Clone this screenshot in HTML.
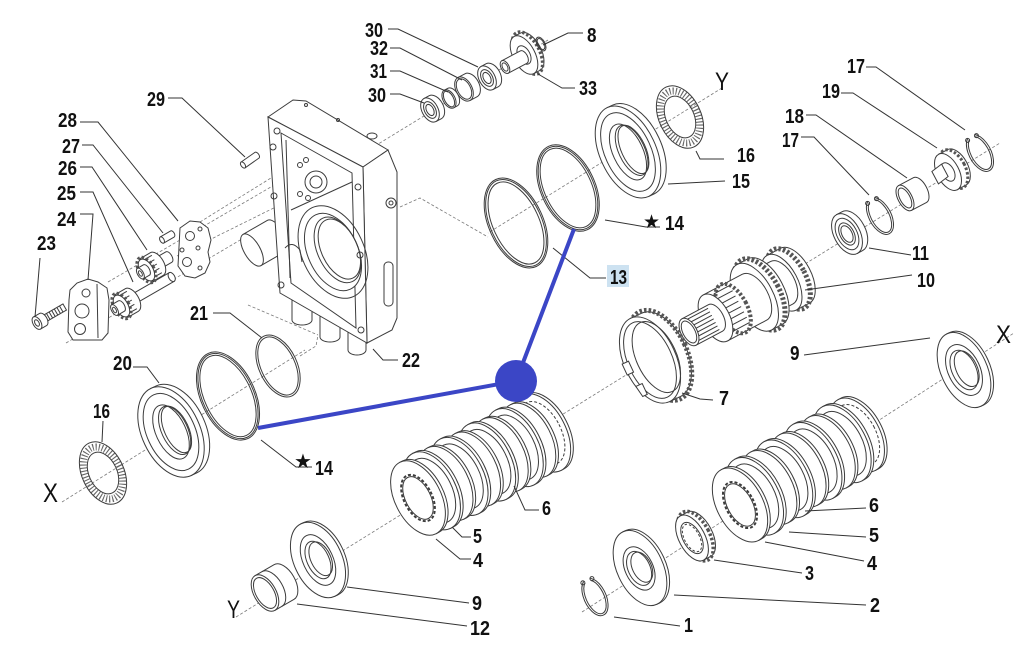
<!DOCTYPE html>
<html><head><meta charset="utf-8"><style>
html,body{margin:0;padding:0;background:#fff;}
svg{display:block}
.p{fill:#fff;stroke:#3c3c3c;stroke-width:1}
.n{fill:none;stroke:#3c3c3c;stroke-width:1}
.g{fill:none;stroke:#555;stroke-width:3.5;stroke-dasharray:2.5 2}
.nd{fill:none;stroke:#666;stroke-width:7;stroke-dasharray:1.1 2}
.d{fill:none;stroke:#7a7a7a;stroke-width:0.8;stroke-dasharray:3 2}
.l{fill:none;stroke:#333;stroke-width:1}
.t{font-family:"Liberation Sans",sans-serif;font-weight:bold;font-size:20px;fill:#111}
.a{font-family:"Liberation Sans",sans-serif;font-size:25px;fill:#111}
.s{font-family:"DejaVu Sans","Liberation Sans",sans-serif;font-size:19px;fill:#111}
</style></head><body>
<svg width="1024" height="659" viewBox="0 0 1024 659" xmlns="http://www.w3.org/2000/svg">
<rect width="1024" height="659" fill="#fff"/>

<!-- dashed axes -->
<path class="d" d="M375,146 L548,40"/>
<path class="d" d="M722,88 L488,233"/>
<path class="d" d="M400,207 L420,198 L488,237"/>
<path class="d" d="M62,502 L305,350"/>
<path class="d" d="M248,305 L318,335 M300,356 L316,346 L318,335"/>
<path class="d" d="M236,617 L1000,143"/>
<path class="d" d="M582,612 L1014,333"/>
<path class="d" d="M66,343 L252,233"/>
<path class="d" d="M108,282 L300,170"/>
<path class="d" d="M177,256 L320,185"/>
<path class="d" d="M200,222 L300,160"/>

<!-- HOUSING 22 -->
<g transform="translate(252,250) rotate(-30)"><path class="p" d="M0,-18H28A8,18 0 0 1 28,18H0Z"/><ellipse class="p" rx="8" ry="18"/></g>
<path class="p" d="M292,298 V320 A10,5 0 0 0 312,320 V305"/>
<path class="p" d="M320,315 V337 A10,5 0 0 0 340,337 V318"/>
<path class="p" d="M348,330 V350 A9,5 0 0 0 366,350 V335"/>
<path class="p" d="M268,117 L293,100 L306,101 L388,150 L363,167 Z"/>
<path class="p" d="M363,167 L388,150 L397,172 L397,318 L392,330 L367,343 Z"/>
<path class="p" d="M268,117 L363,167 L367,343 L280,293 Z"/>
<path class="p" d="M281,133 L352,173 L356,328 L291,283 Z"/>
<path class="n" d="M291,210 L352,182"/>
<path class="n" d="M286,140 L290,278"/>
<g transform="translate(333,252) rotate(-25)"><ellipse class="n" rx="31" ry="49"/><ellipse class="p" rx="25" ry="41"/><ellipse class="n" cx="5" rx="20" ry="35"/><ellipse class="n" cx="7" rx="18" ry="32"/></g>
<circle class="p" cx="316" cy="182" r="11"/><circle class="n" cx="316" cy="182" r="6"/>
<circle class="n" cx="300" cy="165" r="2.5"/><circle class="n" cx="306" cy="160" r="2.5"/><circle class="n" cx="300" cy="194" r="2.5"/><circle class="n" cx="308" cy="198" r="2.5"/>
<circle class="n" cx="277" cy="131" r="3"/><circle class="n" cx="273" cy="147" r="3"/><circle class="n" cx="274" cy="196" r="3"/><circle class="n" cx="281" cy="285" r="3"/>
<circle class="n" cx="358" cy="187" r="3"/><circle class="n" cx="360" cy="255" r="3"/><circle class="n" cx="361" cy="330" r="3"/>
<circle class="n" cx="306" cy="105" r="1.5"/><circle class="n" cx="338" cy="120" r="1.5"/>
<ellipse class="p" cx="372" cy="136" rx="5" ry="3"/>
<circle class="p" cx="391" cy="203" r="5"/><circle class="n" cx="391" cy="203" r="2"/>
<rect class="n" x="384" y="262" width="9" height="44" rx="4"/>
<path class="n" d="M285,248 Q292,240 300,250 L302,262"/>

<!-- PUMP 23-28 -->
<g transform="translate(37,323) rotate(-30)">
<rect class="p" x="6" y="-3.5" width="26" height="7"/>
<path class="n" d="M10,-3.5v7M13,-3.5v7M16,-3.5v7M19,-3.5v7M22,-3.5v7M25,-3.5v7M28,-3.5v7"/>
<path class="p" d="M0,-7H7A4,7 0 0 1 7,7H0Z"/><ellipse class="p" rx="4" ry="7"/><ellipse class="n" rx="2" ry="3.5"/>
</g>
<path class="p" d="M70,290 L77,283 L88,279 L98,282 L107,288 L109,300 L108,333 L102,340 L73,340 L68,332 L69,300 Z"/>
<path class="n" d="M97,284 L98,338"/>
<circle class="n" cx="82" cy="311" r="7"/><circle class="n" cx="80" cy="329" r="5.5"/><circle class="n" cx="86" cy="293" r="4"/>
<g transform="translate(118,308) rotate(-30)">
<rect class="p" x="16" y="-5" width="46" height="10"/><ellipse class="p" cx="62" rx="3" ry="5"/>
<path class="p" d="M4,-13H16A7,13 0 0 1 16,13H4Z"/>
<path class="n" d="M4,-10H16M4,-5H16M4,0H16M4,5H16M4,10H16"/>
<ellipse class="g" cx="4" rx="7.5" ry="14" style="stroke-width:3"/>
<ellipse class="p" cx="4" rx="6.5" ry="12"/>
<path class="p" d="M-4,-6H4A3,6 0 0 1 4,6H-4Z"/><ellipse class="p" cx="-4" rx="3" ry="6"/><ellipse class="n" cx="-4" rx="1.5" ry="3"/>
</g>
<g transform="translate(143,272) rotate(-30)">
<path class="p" d="M14,-6H30A3,6 0 0 1 30,6H14Z"/>
<path class="p" d="M4,-13H16A7,13 0 0 1 16,13H4Z"/>
<path class="n" d="M4,-10H16M4,-5H16M4,0H16M4,5H16M4,10H16"/>
<ellipse class="g" cx="4" rx="7.5" ry="14" style="stroke-width:3"/>
<ellipse class="p" cx="4" rx="6.5" ry="12"/>
<path class="p" d="M-3,-6H4A3,6 0 0 1 4,6H-3Z"/><ellipse class="p" cx="-3" rx="3" ry="6"/><ellipse class="n" cx="-3" rx="1.5" ry="3"/>
</g>
<g transform="translate(162,240) rotate(-30)"><path class="p" d="M0,-3.5H12A2,3.5 0 0 1 12,3.5H0Z"/><ellipse class="p" rx="2" ry="3.5"/></g>
<path class="p" d="M180,228 L190,221 L200,222 L208,228 L211,240 L208,252 L210,262 L205,273 L195,278 L185,276 L178,266 Z"/>
<circle class="n" cx="190" cy="236" r="4.5"/><circle class="n" cx="187" cy="262" r="4.5"/><circle class="n" cx="198" cy="248" r="2"/><circle class="n" cx="200" cy="229" r="2"/><circle class="n" cx="182" cy="250" r="2"/><circle class="n" cx="200" cy="268" r="2"/>

<!-- 29 -->
<g transform="translate(243,165) rotate(-35)"><path class="p" d="M0,-3.5H17A2,3.5 0 0 1 17,3.5H0Z"/><ellipse class="p" rx="2" ry="3.5"/></g>

<!-- TOP SHAFT 30,31,32,33,8 -->
<g transform="translate(430,110) rotate(-28)"><path class="p" d="M0,-13H6A8,13 0 0 1 6,13H0Z"/><ellipse class="p" rx="8" ry="13"/><ellipse class="n" rx="5.5" ry="9"/><ellipse class="n" rx="3.5" ry="6"/></g>
<g transform="translate(449,99) rotate(-28)"><path class="p" d="M0,-10H4A6,10 0 0 1 4,10H0Z"/><ellipse class="p" rx="6" ry="10"/><ellipse class="n" rx="4.5" ry="8.5"/></g>
<g transform="translate(464,89) rotate(-28)"><path class="p" d="M0,-13H8A8,13 0 0 1 8,13H0Z"/><ellipse class="p" rx="8" ry="13"/><ellipse class="n" rx="6.5" ry="11"/></g>
<g transform="translate(487,78) rotate(-28)"><path class="p" d="M0,-13H6A8,13 0 0 1 6,13H0Z"/><ellipse class="p" rx="8" ry="13"/><ellipse class="n" rx="5.5" ry="9"/><ellipse class="n" rx="3.5" ry="6"/></g>
<g transform="translate(524,55) rotate(-28)"><path class="p" d="M0,-21H7A11,21 0 0 1 7,21H0Z"/><ellipse class="g" cx="4" rx="12" ry="23"/><ellipse class="p" rx="11" ry="21"/><ellipse class="n" rx="6" ry="10"/></g>
<g transform="translate(505,67) rotate(-28)"><path class="p" d="M0,-7H21A4,7 0 0 1 21,7H0Z"/><ellipse class="p" rx="4" ry="7"/><ellipse class="n" rx="2.5" ry="4.5"/></g>
<g transform="translate(541,44) rotate(-28)"><ellipse class="n" rx="4" ry="7.5"/><ellipse class="n" rx="3" ry="6"/></g>

<!-- Y TOP GROUP 13,14,15,16 -->
<g transform="translate(516,223) rotate(-25)"><ellipse class="n" rx="27" ry="48"/><ellipse class="n" rx="25.5" ry="46.5"/><ellipse class="n" rx="23" ry="44"/></g>
<g transform="translate(568,188) rotate(-25)"><ellipse class="n" rx="27" ry="46"/><ellipse class="n" rx="25.5" ry="44.5"/><ellipse class="n" rx="23.5" ry="42.5"/></g>
<g transform="translate(628,152) rotate(-25)"><path class="p" d="M0,-49H6A28,49 0 0 1 6,49H0Z"/><ellipse class="p" rx="28" ry="49"/><ellipse class="n" rx="23" ry="42"/><ellipse class="p" rx="15" ry="30"/><ellipse class="n" cx="4" rx="13" ry="27"/><ellipse class="n" cx="6" rx="12" ry="26"/></g>
<g transform="translate(680,117) rotate(-25)"><ellipse class="nd" rx="17.5" ry="27.5"/><ellipse class="n" rx="21" ry="33"/><ellipse class="n" rx="14" ry="22"/></g>

<!-- RIGHT TOP 11,17,18,19,17 -->
<g transform="translate(847,234) rotate(-28)"><path class="p" d="M0,-22H6A13,22 0 0 1 6,22H0Z"/><ellipse class="p" rx="13" ry="22"/><ellipse class="n" rx="10" ry="17"/><ellipse class="p" rx="7" ry="12"/><ellipse class="n" rx="5" ry="9"/></g>
<g transform="translate(880,216) rotate(-28)"><path class="n" d="M3.8,-18.8 A11,20 0 1 1 -3.8,-18.8"/><path class="n" d="M3.1,-16.9 A9,18 0 1 1 -3.1,-16.9"/><circle class="n" cx="5" cy="-17" r="2"/><circle class="n" cx="-5" cy="-17" r="2"/></g>
<g transform="translate(905,198) rotate(-28)"><path class="p" d="M0,-14H17A7,14 0 0 1 17,14H0Z"/><ellipse class="p" rx="7" ry="14"/><ellipse class="n" rx="5" ry="11"/></g>
<g transform="translate(948,172) rotate(-28)"><path class="p" d="M0,-20H10A11,20 0 0 1 10,20H0Z"/><ellipse class="g" cx="6" rx="12" ry="21" style="stroke-width:3"/><ellipse class="p" rx="11" ry="20"/><ellipse class="n" rx="6" ry="10"/><path class="p" d="M-14,-8 L-2,-10 L-2,4 L-14,6 Z"/></g>
<g transform="translate(980,153) rotate(-28)"><path class="n" d="M3.8,-18.8 A11,20 0 1 1 -3.8,-18.8"/><path class="n" d="M3.1,-16.9 A9,18 0 1 1 -3.1,-16.9"/><circle class="n" cx="5" cy="-17" r="2"/><circle class="n" cx="-5" cy="-17" r="2"/></g>

<!-- PART 10 -->
<g transform="translate(689,332) rotate(-28)">
<path class="p" d="M105,-31H120A16,31 0 0 1 120,31H105Z"/>
<ellipse class="g" cx="113" rx="17" ry="33" style="stroke-width:5"/>
<ellipse class="p" cx="105" rx="16" ry="31"/>
<path class="p" d="M84,-24H105A13,24 0 0 1 105,24H84Z"/>
<path class="p" d="M74,-37H86A19,37 0 0 1 86,37H74Z"/>
<ellipse class="g" cx="80" rx="20" ry="39" style="stroke-width:5"/>
<ellipse class="p" cx="74" rx="19" ry="37"/>
<circle class="n" cx="70" cy="20" r="2"/>
<path class="p" d="M30,-26H74A14,26 0 0 1 74,26H30Z"/>
<ellipse class="g" cx="50" rx="14" ry="27" style="stroke-width:4"/>
<path class="n" d="M40,-22H58M40,-16H58M40,-10H58M40,-4H58M40,2H58M40,8H58M40,14H58M40,20H58"/>
<ellipse class="p" cx="30" rx="14" ry="26"/>
<path class="p" d="M0,-15H30A8,15 0 0 1 30,15H0Z"/>
<path class="n" d="M2,-12H28M2,-8H28M2,-4H28M2,0H28M2,4H28M2,8H28M2,12H28"/>
<ellipse class="p" rx="8" ry="15"/><ellipse class="n" rx="6" ry="12"/>
</g>

<!-- PART 7 -->
<g transform="translate(650,360) rotate(-25)">
<path class="p" d="M0,-46H12A26,46 0 0 1 12,46H0Z"/>
<ellipse class="g" cx="11" rx="27" ry="48" style="stroke-width:5"/>
<ellipse class="p" rx="26" ry="46"/>
<ellipse class="n" rx="22" ry="41"/>
<ellipse class="n" cx="7" rx="20" ry="38"/>
<path class="p" d="M-27,-8 L-20,-8 L-20,4 L-27,4 Z"/>
<path class="p" d="M-24,18 L-17,18 L-17,30 L-22,30 Z"/>
</g>

<!-- MIDDLE CLUTCH PACK 4,5,6 -->
<g transform="translate(542,433) rotate(-27)"><path class="p" d="M0,-42H3A24,42 0 0 1 3,42H0Z"/><ellipse class="p" rx="24" ry="42"/><ellipse class="n" rx="19" ry="34" stroke-dasharray="3 2"/></g>
<g transform="translate(528.4,440.4) rotate(-27)"><path class="p" d="M0,-40H3A23,40 0 0 1 3,40H0Z"/><ellipse class="p" rx="23" ry="40"/></g>
<g transform="translate(514.6,447.6) rotate(-27)"><path class="p" d="M0,-42H3A24,42 0 0 1 3,42H0Z"/><ellipse class="p" rx="24" ry="42"/><ellipse class="n" rx="20" ry="35"/></g>
<g transform="translate(500.8,454.8) rotate(-27)"><path class="p" d="M0,-40H3A23,40 0 0 1 3,40H0Z"/><ellipse class="p" rx="23" ry="40"/></g>
<g transform="translate(487,462) rotate(-27)"><path class="p" d="M0,-42H3A24,42 0 0 1 3,42H0Z"/><ellipse class="p" rx="24" ry="42"/><ellipse class="n" rx="20" ry="35"/></g>
<g transform="translate(473.2,469.2) rotate(-27)"><path class="p" d="M0,-40H3A23,40 0 0 1 3,40H0Z"/><ellipse class="p" rx="23" ry="40"/></g>
<g transform="translate(459.4,476.4) rotate(-27)"><path class="p" d="M0,-42H3A24,42 0 0 1 3,42H0Z"/><ellipse class="p" rx="24" ry="42"/><ellipse class="n" rx="20" ry="35"/></g>
<g transform="translate(445.6,483.6) rotate(-27)"><path class="p" d="M0,-40H3A23,40 0 0 1 3,40H0Z"/><ellipse class="p" rx="23" ry="40"/></g>
<g transform="translate(431.8,490.8) rotate(-27)"><path class="p" d="M0,-42H3A24,42 0 0 1 3,42H0Z"/><ellipse class="p" rx="24" ry="42"/><ellipse class="n" rx="20" ry="35"/></g>
<g transform="translate(418,498) rotate(-27)"><path class="p" d="M0,-40H3A23,40 0 0 1 3,40H0Z"/><ellipse class="p" rx="23" ry="40"/><ellipse class="n" rx="14" ry="25" stroke-dasharray="3 2" style="stroke-width:2"/><ellipse class="n" rx="12.5" ry="23"/></g>

<!-- RIGHT CLUTCH PACK -->
<g transform="translate(856.8,435) rotate(-28)"><path class="p" d="M0,-40H3A23,40 0 0 1 3,40H0Z"/><ellipse class="p" rx="23" ry="40"/><ellipse class="n" rx="19" ry="33" stroke-dasharray="3 2"/></g>
<g transform="translate(842.2,443.8) rotate(-28)"><path class="p" d="M0,-42H3A24,42 0 0 1 3,42H0Z"/><ellipse class="p" rx="24" ry="42"/><ellipse class="n" rx="20" ry="35"/></g>
<g transform="translate(827.6,452.5) rotate(-28)"><path class="p" d="M0,-40H3A23,40 0 0 1 3,40H0Z"/><ellipse class="p" rx="23" ry="40"/></g>
<g transform="translate(813,461.3) rotate(-28)"><path class="p" d="M0,-42H3A24,42 0 0 1 3,42H0Z"/><ellipse class="p" rx="24" ry="42"/><ellipse class="n" rx="20" ry="35"/></g>
<g transform="translate(798.4,470) rotate(-28)"><path class="p" d="M0,-40H3A23,40 0 0 1 3,40H0Z"/><ellipse class="p" rx="23" ry="40"/></g>
<g transform="translate(783.8,478.8) rotate(-28)"><path class="p" d="M0,-42H3A24,42 0 0 1 3,42H0Z"/><ellipse class="p" rx="24" ry="42"/><ellipse class="n" rx="20" ry="35"/></g>
<g transform="translate(769.2,487.5) rotate(-28)"><path class="p" d="M0,-40H3A23,40 0 0 1 3,40H0Z"/><ellipse class="p" rx="23" ry="40"/></g>
<g transform="translate(754.6,496.3) rotate(-28)"><path class="p" d="M0,-42H3A24,42 0 0 1 3,42H0Z"/><ellipse class="p" rx="24" ry="42"/><ellipse class="n" rx="20" ry="35"/></g>
<g transform="translate(740,505) rotate(-28)"><path class="p" d="M0,-40H3A23,40 0 0 1 3,40H0Z"/><ellipse class="p" rx="23" ry="40"/><ellipse class="n" rx="14" ry="25" stroke-dasharray="3 2" style="stroke-width:2"/><ellipse class="n" rx="12.5" ry="23"/></g>

<!-- PART 3, 2, 1, 9 right -->
<g transform="translate(692,538) rotate(-28)"><path class="p" d="M0,-25H8A13,25 0 0 1 8,25H0Z"/><ellipse class="g" cx="4" rx="14" ry="27"/><ellipse class="p" rx="13" ry="25"/><ellipse class="n" rx="9" ry="17"/><ellipse class="n" rx="7.5" ry="15" stroke-dasharray="2.5 2"/></g>
<g transform="translate(640,568) rotate(-25)"><path class="p" d="M0,-40H3A23,40 0 0 1 3,40H0Z"/><ellipse class="p" rx="23" ry="40"/><ellipse class="n" cx="-1" rx="14" ry="23"/><ellipse class="p" cx="-1" rx="11" ry="18"/><ellipse class="n" cx="2" rx="9.5" ry="16"/></g>
<g transform="translate(595,597) rotate(-25)"><path class="n" d="M3.8,-18.8 A11,20 0 1 1 -3.8,-18.8"/><path class="n" d="M3.1,-16.9 A9,18 0 1 1 -3.1,-16.9"/><circle class="n" cx="5" cy="-18" r="2"/><circle class="n" cx="-5" cy="-18" r="2"/></g>
<g transform="translate(964,370) rotate(-25)"><path class="p" d="M0,-40H3A23,40 0 0 1 3,40H0Z"/><ellipse class="p" rx="23" ry="40"/><ellipse class="n" rx="16" ry="27"/><ellipse class="p" rx="12" ry="21"/><ellipse class="n" cx="3" rx="10.5" ry="19"/></g>

<!-- LEFT GROUP 12, 9, 16, 20, 14, 21 -->
<g transform="translate(265,593) rotate(-30)"><path class="p" d="M0,-20H22A11,20 0 0 1 22,20H0Z"/><path class="n" d="M8,-20 A11,20 0 0 1 8,20"/><ellipse class="p" rx="11" ry="20"/><ellipse class="n" rx="9" ry="17"/></g>
<g transform="translate(318,560) rotate(-25)"><path class="p" d="M0,-40H3A24,40 0 0 1 3,40H0Z"/><ellipse class="p" rx="24" ry="40"/><ellipse class="n" rx="15" ry="27"/><ellipse class="p" rx="11" ry="20"/><ellipse class="n" cx="3" rx="10" ry="18"/></g>
<g transform="translate(103,473) rotate(-25)"><ellipse class="nd" rx="17.5" ry="27.5"/><ellipse class="n" rx="21" ry="33"/><ellipse class="n" rx="14" ry="22"/></g>
<g transform="translate(171,432) rotate(-25)"><path class="p" d="M0,-48H6A29,48 0 0 1 6,48H0Z"/><ellipse class="p" rx="29" ry="48"/><ellipse class="n" rx="24" ry="41"/><ellipse class="p" rx="15" ry="29"/><ellipse class="n" cx="4" rx="13" ry="26"/><ellipse class="n" cx="6" rx="12" ry="25"/></g>
<g transform="translate(228,396) rotate(-25)"><ellipse class="n" rx="27" ry="47"/><ellipse class="n" rx="25.5" ry="45.5"/><ellipse class="n" rx="23.5" ry="43.5"/></g>
<g transform="translate(278,366) rotate(-25)"><ellipse class="n" rx="19" ry="33"/><ellipse class="n" rx="17" ry="31"/></g>

<!-- LEADER LINES -->
<path class="l" d="M388,29 L398,29 L478,67"/>
<path class="l" d="M390,48 L400,48 L462,80"/>
<path class="l" d="M390,71 L400,71 L448,92"/>
<path class="l" d="M390,94 L400,94 L424,103"/>
<path class="l" d="M583,33 L568,33 L543,45"/>
<path class="l" d="M575,88 L562,88 L538,74"/>
<path class="l" d="M168,98 L182,98 L245,157"/>
<path class="l" d="M80,122 L98,122 L178,221"/>
<path class="l" d="M82,145 L93,145 L163,233"/>
<path class="l" d="M80,167 L92,167 L147,250"/>
<path class="l" d="M80,192 L93,192 L133,282"/>
<path class="l" d="M80,214 L93,214 L88,280"/>
<path class="l" d="M40,258 L35,317"/>
<path class="l" d="M213,313 L230,313 L262,338"/>
<path class="l" d="M398,360 L383,360 L373,349"/>
<path class="l" d="M133,367 L147,367 L159,383"/>
<path class="l" d="M103,421 L102,442"/>
<path class="l" d="M261,440 L296,467 L312,467"/>
<path class="l" d="M606,278 L590,278 L553,248"/>
<path class="l" d="M605,220 L646,227 L660,227"/>
<path class="l" d="M725,181 L668,184"/>
<path class="l" d="M724,159 L700,159 L696,151"/>
<path class="l" d="M866,67 L876,67 L965,130"/>
<path class="l" d="M841,93 L853,93 L937,148"/>
<path class="l" d="M806,115 L816,115 L907,178"/>
<path class="l" d="M801,137 L814,137 L869,195"/>
<path class="l" d="M911,255 L869,248"/>
<path class="l" d="M912,275 L805,290"/>
<path class="l" d="M804,355 L930,338"/>
<path class="l" d="M713,400 L700,399 L682,393"/>
<path class="l" d="M539,510 L525,510 L514,486"/>
<path class="l" d="M866,508 L805,511"/>
<path class="l" d="M866,537 L789,532"/>
<path class="l" d="M864,561 L765,542"/>
<path class="l" d="M802,573 L714,560"/>
<path class="l" d="M866,605 L674,595"/>
<path class="l" d="M680,626 L614,617"/>
<path class="l" d="M471,537 L462,537 L452,527"/>
<path class="l" d="M471,559 L460,559 L436,539"/>
<path class="l" d="M469,603 L347,587"/>
<path class="l" d="M467,626 L297,604"/>

<!-- LABELS -->
<rect x="607" y="265" width="22" height="22" fill="#cde2f1"/>
<text class="t" x="365" y="37" textLength="18" lengthAdjust="spacingAndGlyphs">30</text>
<text class="t" x="370" y="55" textLength="18" lengthAdjust="spacingAndGlyphs">32</text>
<text class="t" x="370" y="78" textLength="17" lengthAdjust="spacingAndGlyphs">31</text>
<text class="t" x="368" y="102" textLength="18" lengthAdjust="spacingAndGlyphs">30</text>
<text class="t" x="587" y="42" textLength="9.5" lengthAdjust="spacingAndGlyphs">8</text>
<text class="t" x="579" y="95" textLength="18" lengthAdjust="spacingAndGlyphs">33</text>
<text class="t" x="147" y="106" textLength="18" lengthAdjust="spacingAndGlyphs">29</text>
<text class="t" x="58" y="127" textLength="19" lengthAdjust="spacingAndGlyphs">28</text>
<text class="t" x="62" y="153" textLength="18" lengthAdjust="spacingAndGlyphs">27</text>
<text class="t" x="58" y="175" textLength="19" lengthAdjust="spacingAndGlyphs">26</text>
<text class="t" x="57" y="200" textLength="19" lengthAdjust="spacingAndGlyphs">25</text>
<text class="t" x="57" y="226" textLength="19" lengthAdjust="spacingAndGlyphs">24</text>
<text class="t" x="37" y="250" textLength="19" lengthAdjust="spacingAndGlyphs">23</text>
<text class="t" x="190" y="320" textLength="18" lengthAdjust="spacingAndGlyphs">21</text>
<text class="a" x="715" y="90" textLength="14" lengthAdjust="spacingAndGlyphs">Y</text>
<text class="t" x="737" y="162" textLength="18" lengthAdjust="spacingAndGlyphs">16</text>
<text class="t" x="732" y="188" textLength="18" lengthAdjust="spacingAndGlyphs">15</text>
<text class="s" x="643" y="228">★</text>
<text class="t" x="665" y="230" textLength="19" lengthAdjust="spacingAndGlyphs">14</text>
<text class="t" x="610" y="284" textLength="17" lengthAdjust="spacingAndGlyphs">13</text>
<text class="t" x="847" y="73" textLength="18" lengthAdjust="spacingAndGlyphs">17</text>
<text class="t" x="822" y="98" textLength="18" lengthAdjust="spacingAndGlyphs">19</text>
<text class="t" x="785" y="123" textLength="19" lengthAdjust="spacingAndGlyphs">18</text>
<text class="t" x="782" y="147" textLength="17" lengthAdjust="spacingAndGlyphs">17</text>
<text class="t" x="912" y="260" textLength="17" lengthAdjust="spacingAndGlyphs">11</text>
<text class="t" x="917" y="287" textLength="18" lengthAdjust="spacingAndGlyphs">10</text>
<text class="a" x="996" y="343" textLength="15" lengthAdjust="spacingAndGlyphs">X</text>
<text class="t" x="790" y="360" textLength="9.5" lengthAdjust="spacingAndGlyphs">9</text>
<text class="t" x="719" y="405" textLength="10" lengthAdjust="spacingAndGlyphs">7</text>
<text class="t" x="402" y="367" textLength="18" lengthAdjust="spacingAndGlyphs">22</text>
<text class="t" x="113" y="370" textLength="19" lengthAdjust="spacingAndGlyphs">20</text>
<text class="t" x="93" y="418" textLength="17" lengthAdjust="spacingAndGlyphs">16</text>
<text class="a" x="43" y="502" style="font-size:27px" textLength="15" lengthAdjust="spacingAndGlyphs">X</text>
<text class="s" x="294" y="468" style="font-size:20px">★</text>
<text class="t" x="315" y="475" textLength="18" lengthAdjust="spacingAndGlyphs">14</text>
<text class="t" x="542" y="515" textLength="9" lengthAdjust="spacingAndGlyphs">6</text>
<text class="t" x="473" y="543" textLength="9" lengthAdjust="spacingAndGlyphs">5</text>
<text class="t" x="473" y="567" textLength="10" lengthAdjust="spacingAndGlyphs">4</text>
<text class="t" x="472" y="610" textLength="10" lengthAdjust="spacingAndGlyphs">9</text>
<text class="t" x="470" y="635" textLength="20" lengthAdjust="spacingAndGlyphs">12</text>
<text class="a" x="227" y="618" textLength="13" lengthAdjust="spacingAndGlyphs">Y</text>
<text class="t" x="869" y="512" textLength="10" lengthAdjust="spacingAndGlyphs">6</text>
<text class="t" x="869" y="542" textLength="10" lengthAdjust="spacingAndGlyphs">5</text>
<text class="t" x="867" y="570" textLength="10" lengthAdjust="spacingAndGlyphs">4</text>
<text class="t" x="805" y="580" textLength="9" lengthAdjust="spacingAndGlyphs">3</text>
<text class="t" x="870" y="612" textLength="10" lengthAdjust="spacingAndGlyphs">2</text>
<text class="t" x="684" y="632" textLength="9" lengthAdjust="spacingAndGlyphs">1</text>

<!-- BLUE OVERLAY -->
<path d="M574,229 L516,381 L258,428" fill="none" stroke="#3b46c6" stroke-width="4" stroke-linejoin="round"/>
<circle cx="516" cy="381" r="21" fill="#3b46c6"/>
</svg>
</body></html>
